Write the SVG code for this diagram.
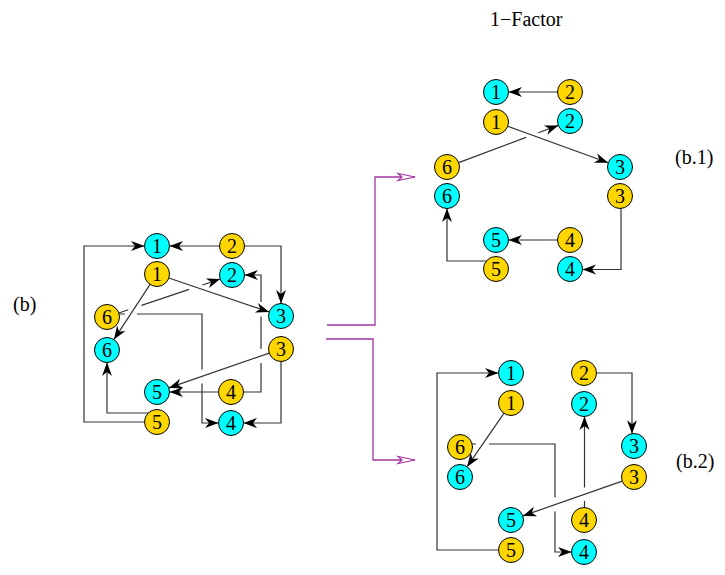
<svg xmlns="http://www.w3.org/2000/svg" width="725" height="575" viewBox="0 0 725 575">
  <style>
    .c { fill: #00ffff; stroke: #000; stroke-width: 1; }
    .y { fill: #ffd700; stroke: #000; stroke-width: 1; }
    .n { font-family: "Liberation Serif", "Times New Roman", serif; font-size: 20px; text-anchor: middle; fill: #000; }
    .lbl { font-family: "Liberation Serif", "Times New Roman", serif; font-size: 20px; fill: #000; }
    .e { fill: none; stroke: #333; stroke-width: 1.2; }
    .a { marker-end: url(#ah); }
    .p { fill: none; stroke: #a335a3; stroke-width: 1.3; marker-end: url(#ph); }
  </style>
  <defs>
    <marker id="ah" viewBox="-15 -6 16 12" refX="0" refY="0" markerWidth="16" markerHeight="12" markerUnits="userSpaceOnUse" orient="auto">
      <path d="M0,0 L-13.5,-5 L-9.5,0 L-13.5,5 Z" fill="#000"/>
    </marker>
    <marker id="ph" viewBox="-19 -5 20 10" refX="0" refY="0" markerWidth="20" markerHeight="10" markerUnits="userSpaceOnUse" orient="auto">
      <path d="M0,0 L-17,-3.5 L-13,0 L-17,3.5 Z" fill="#fff" stroke="#a335a3" stroke-width="1.2"/>
    </marker>
  </defs>

  <rect width="725" height="575" fill="#fff"/>

  <!-- labels -->
  <text class="lbl" x="490" y="26">1−Factor</text>
  <text class="lbl" x="13" y="311">(b)</text>
  <text class="lbl" x="675" y="164">(b.1)</text>
  <text class="lbl" x="676" y="468">(b.2)</text>

  <g id="connectors">
    <!-- graph (b) -->
    <path class="e a" d="M219.5,246 H169.5"/>
    <path class="e a" d="M244.5,246 H281 V303.5"/>
    <path class="e a" d="M144.5,422 H84 V246 H144.5"/>
    <path class="e a" d="M148.3,413 H107 V362.5"/>
    <path class="e a" d="M150.1,284.4 L113.9,339.6"/>
    <path class="e a" d="M168.8,278 L269.2,312"/>
    <path class="e" d="M118.8,313 L128.3,309.8 M141.5,305.4 L189.2,289.4"/>
    <path class="e a" d="M202.4,285 L220.2,279"/>
    <path class="e" d="M119.1,314 H125 M137,314 H202 V369.5"/>
    <path class="e a" d="M202,383.5 V423 H218.5"/>
    <path class="e" d="M243.5,392 H261 V363 M261,349 V316.5"/>
    <path class="e a" d="M261,302 V275 H244.5"/>
    <path class="e a" d="M218.5,392 H169.5"/>
    <path class="e a" d="M269.2,353.1 L168.8,387.9"/>
    <path class="e a" d="M281,361.5 V423 H243.5"/>

    <!-- graph (b.1) -->
    <path class="e a" d="M557.5,92 H508.5"/>
    <path class="e a" d="M507.8,126.3 L608.2,162.7"/>
    <path class="e" d="M458.7,162.6 L526.1,137.4"/>
    <path class="e a" d="M538.3,132.8 L558.3,125.4"/>
    <path class="e a" d="M486.4,261 H447 V208.5"/>
    <path class="e a" d="M557.5,240 H508.5"/>
    <path class="e a" d="M621,208.5 V269.5 H582.5"/>

    <!-- graph (b.2) -->
    <path class="e a" d="M498.5,550 H437 V373 H498.5"/>
    <path class="e a" d="M503.9,413.3 L467.1,466.7"/>
    <path class="e" d="M472.1,444 H476 M489,444 H555 V497.5"/>
    <path class="e a" d="M555,511.5 V552 H571.5"/>
    <path class="e a" d="M596.5,373 H632 V433.7"/>
    <path class="e" d="M584.5,507.5 V501"/>
    <path class="e a" d="M584.5,487.5 V416.5"/>
    <path class="e a" d="M622.2,481.1 L522.8,515.9"/>

    <!-- transitions to the two factors -->
    <path class="p" d="M327,325 H375 V177 H415"/>
    <path class="p" d="M326,339 H373 V460 H415"/>
  </g>

  <!-- graph (b) nodes -->
  <g id="b-c1"><circle class="c" cx="157" cy="246" r="12.5"/><text class="n" x="157" y="253">1</text></g>
  <g id="b-y2"><circle class="y" cx="232" cy="246" r="12.5"/><text class="n" x="232" y="253">2</text></g>
  <g id="b-y1"><circle class="y" cx="157" cy="274" r="12.5"/><text class="n" x="157" y="281">1</text></g>
  <g id="b-c2"><circle class="c" cx="232" cy="275" r="12.5"/><text class="n" x="232" y="282">2</text></g>
  <g id="b-y6"><circle class="y" cx="107" cy="317" r="12.5"/><text class="n" x="107" y="324">6</text></g>
  <g id="b-c3"><circle class="c" cx="281" cy="316" r="12.5"/><text class="n" x="281" y="323">3</text></g>
  <g id="b-c6"><circle class="c" cx="107" cy="350" r="12.5"/><text class="n" x="107" y="357">6</text></g>
  <g id="b-y3"><circle class="y" cx="281" cy="349" r="12.5"/><text class="n" x="281" y="356">3</text></g>
  <g id="b-c5"><circle class="c" cx="157" cy="392" r="12.5"/><text class="n" x="157" y="399">5</text></g>
  <g id="b-y4"><circle class="y" cx="231" cy="392" r="12.5"/><text class="n" x="231" y="399">4</text></g>
  <g id="b-y5"><circle class="y" cx="157" cy="422" r="12.5"/><text class="n" x="157" y="429">5</text></g>
  <g id="b-c4"><circle class="c" cx="231" cy="423" r="12.5"/><text class="n" x="231" y="430">4</text></g>

  <!-- graph (b.1) nodes -->
  <g id="b1-c1"><circle class="c" cx="496" cy="92" r="12.5"/><text class="n" x="496" y="99">1</text></g>
  <g id="b1-y2"><circle class="y" cx="570" cy="92" r="12.5"/><text class="n" x="570" y="99">2</text></g>
  <g id="b1-y1"><circle class="y" cx="496" cy="122" r="12.5"/><text class="n" x="496" y="129">1</text></g>
  <g id="b1-c2"><circle class="c" cx="570" cy="121" r="12.5"/><text class="n" x="570" y="128">2</text></g>
  <g id="b1-y6"><circle class="y" cx="447" cy="167" r="12.5"/><text class="n" x="447" y="174">6</text></g>
  <g id="b1-c3"><circle class="c" cx="620" cy="167" r="12.5"/><text class="n" x="620" y="174">3</text></g>
  <g id="b1-c6"><circle class="c" cx="447" cy="196" r="12.5"/><text class="n" x="447" y="203">6</text></g>
  <g id="b1-y3"><circle class="y" cx="620" cy="196" r="12.5"/><text class="n" x="620" y="203">3</text></g>
  <g id="b1-c5"><circle class="c" cx="496" cy="240" r="12.5"/><text class="n" x="496" y="247">5</text></g>
  <g id="b1-y4"><circle class="y" cx="570" cy="240" r="12.5"/><text class="n" x="570" y="247">4</text></g>
  <g id="b1-y5"><circle class="y" cx="496" cy="269" r="12.5"/><text class="n" x="496" y="276">5</text></g>
  <g id="b1-c4"><circle class="c" cx="570" cy="269" r="12.5"/><text class="n" x="570" y="276">4</text></g>

  <!-- graph (b.2) nodes -->
  <g id="b2-c1"><circle class="c" cx="511" cy="373" r="12.5"/><text class="n" x="511" y="380">1</text></g>
  <g id="b2-y2"><circle class="y" cx="584" cy="373" r="12.5"/><text class="n" x="584" y="380">2</text></g>
  <g id="b2-y1"><circle class="y" cx="511" cy="403" r="12.5"/><text class="n" x="511" y="410">1</text></g>
  <g id="b2-c2"><circle class="c" cx="584" cy="404" r="12.5"/><text class="n" x="584" y="411">2</text></g>
  <g id="b2-y6"><circle class="y" cx="460" cy="447" r="12.5"/><text class="n" x="460" y="454">6</text></g>
  <g id="b2-c3"><circle class="c" cx="634" cy="446" r="12.5"/><text class="n" x="634" y="453">3</text></g>
  <g id="b2-c6"><circle class="c" cx="460" cy="477" r="12.5"/><text class="n" x="460" y="484">6</text></g>
  <g id="b2-y3"><circle class="y" cx="634" cy="477" r="12.5"/><text class="n" x="634" y="484">3</text></g>
  <g id="b2-c5"><circle class="c" cx="511" cy="520" r="12.5"/><text class="n" x="511" y="527">5</text></g>
  <g id="b2-y4"><circle class="y" cx="584" cy="520" r="12.5"/><text class="n" x="584" y="527">4</text></g>
  <g id="b2-y5"><circle class="y" cx="511" cy="550" r="12.5"/><text class="n" x="511" y="557">5</text></g>
  <g id="b2-c4"><circle class="c" cx="584" cy="552" r="12.5"/><text class="n" x="584" y="559">4</text></g>
</svg>
